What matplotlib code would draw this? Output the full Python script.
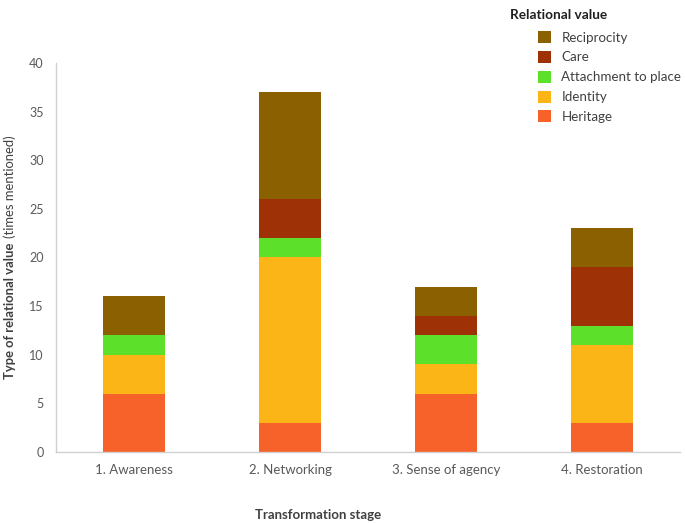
import matplotlib
matplotlib.use("Agg")
import matplotlib.pyplot as plt
from matplotlib.patches import Patch

plt.rcParams['font.family'] = ['Lato', 'DejaVu Sans']

stages = ["1. Awareness", "2. Networking", "3. Sense of agency", "4. Restoration"]
heritage = [6, 3, 6, 3]
identity = [4, 17, 3, 8]
attachment = [2, 2, 3, 2]
care = [0, 4, 2, 6]
reciprocity = [4, 11, 3, 4]

series = [
    ("Heritage", heritage, "#F6622A"),
    ("Identity", identity, "#FBB516"),
    ("Attachment to place", attachment, "#5CE02A"),
    ("Care", care, "#9E3106"),
    ("Reciprocity", reciprocity, "#8A6000"),
]

W, H = 685, 523
fig = plt.figure(figsize=(W / 100, H / 100), dpi=100)
ax = fig.add_axes([0.0818, 0.1358, 0.911, 0.7437])

x = list(range(len(stages)))
bottom = [0] * len(stages)
for name, vals, col in series:
    ax.bar(x, vals, width=0.4, bottom=bottom, color=col, label=name)
    bottom = [b + v for b, v in zip(bottom, vals)]

ax.set_xlim(-0.5, 3.5)
ax.set_ylim(0, 40)
ax.set_yticks(range(0, 41, 5))
ax.set_xticks(x)
ax.set_xticklabels(stages)
ax.tick_params(axis='both', length=0, colors='#595959', labelsize=9)
ax.tick_params(axis='x', pad=9, labelsize=9.5)
ax.tick_params(axis='y', pad=9)
for s in ['top', 'right']:
    ax.spines[s].set_visible(False)
for s in ['left', 'bottom']:
    ax.spines[s].set_color('#d0d0d0')
    ax.spines[s].set_linewidth(1.0)

fig.text(318 / W, 1 - 515 / H, "Transformation stage", ha='center', va='center',
         fontsize=9.5, fontweight='bold', color='#404040')
t1 = fig.text(10 / W, 1 - 379 / H, "Type of relational value", rotation=90, ha='center', va='bottom',
              fontsize=9.4, fontweight='bold', color='#404040')
fig.canvas.draw()
bb = t1.get_window_extent()
fig.text(10 / W, (bb.y1 + 5) / H, "(times mentioned)", rotation=90, ha='center', va='bottom',
         fontsize=9.4, color='#404040')

fig.text(510 / W, 1 - 15 / H, "Relational value", ha='left', va='center',
         fontsize=9.8, fontweight='bold', color='#202020')

handles = [Patch(facecolor=c, label=n) for n, v, c in reversed(series)]
leg = fig.legend(handles=handles, loc='upper left', bbox_to_anchor=(538 / W, 1 - 31 / H),
                 frameon=False, fontsize=9.6, borderpad=0, borderaxespad=0,
                 handlelength=1.0, handleheight=1.0, handletextpad=0.75,
                 labelspacing=0.55)
for t in leg.get_texts():
    t.set_color('#404040')

fig.savefig("out.png", dpi=100)
